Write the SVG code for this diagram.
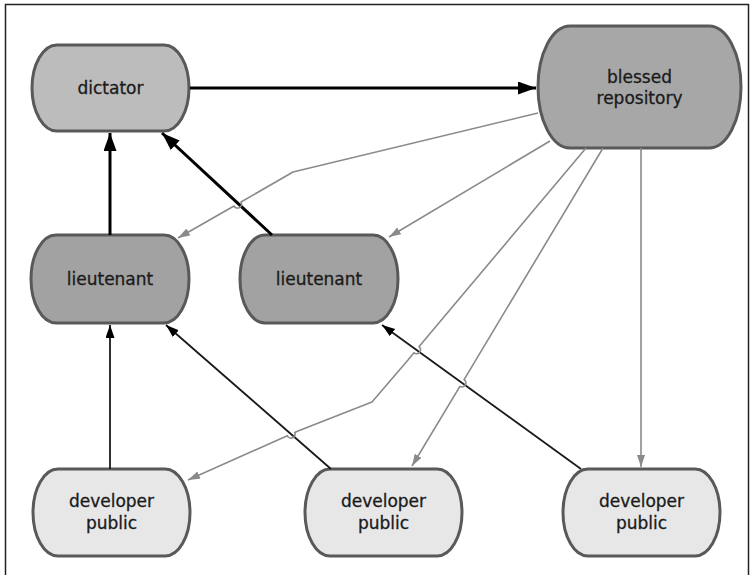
<svg xmlns="http://www.w3.org/2000/svg" width="754" height="575" viewBox="0 0 754 575">
  <style>
    .node { stroke: #595959; stroke-width: 3; }
    .dict { fill: #bcbcbc; }
    .repo { fill: #a7a7a7; }
    .lt { fill: #a2a2a2; }
    .dev { fill: #e7e7e7; }
    .lbl { font-family: "DejaVu Sans", "Liberation Sans", sans-serif; font-size: 17px; fill: #1a1a1a; stroke: #1a1a1a; stroke-width: 0.3; text-anchor: middle; }
    .thick { fill: none; stroke: #000; stroke-width: 3; marker-end: url(#aBig); }
    .thin { fill: none; stroke: #1a1a1a; stroke-width: 1.8; marker-end: url(#aThin); }
    .gray { fill: none; stroke: #8a8a8a; stroke-width: 1.6; stroke-linejoin: round; marker-end: url(#aGray); }
  </style>
  <defs>
    <marker id="aBig" markerUnits="userSpaceOnUse" markerWidth="19" markerHeight="14" refX="18" refY="6.5" orient="auto">
      <path d="M0,0 L18,6.5 L0,13 z" fill="#000"/>
    </marker>
    <marker id="aThin" markerUnits="userSpaceOnUse" markerWidth="14" markerHeight="10" refX="13" refY="4.5" orient="auto">
      <path d="M0,0 L13,4.5 L0,9 z" fill="#000"/>
    </marker>
    <marker id="aGray" markerUnits="userSpaceOnUse" markerWidth="13" markerHeight="9" refX="12" refY="4" orient="auto">
      <path d="M0,0 L12,4 L0,8 z" fill="#8a8a8a"/>
    </marker>
  </defs>
  <rect x="0" y="0" width="754" height="575" fill="#fff"/>
  <path d="M5.5,590 L5.5,4.5 L748.5,4.5 L748.5,590" fill="none" stroke="#222" stroke-width="1.5"/>

  <g id="dictator">
    <rect class="node dict" x="32" y="45" width="157" height="86" rx="25" ry="43"/>
    <text class="lbl" x="110.5" y="94">dictator</text>
  </g>
  <g id="blessed-repository">
    <rect class="node repo" x="538" y="26" width="203" height="122" rx="32" ry="61"/>
    <text class="lbl" x="639.5" y="83">blessed</text>
    <text class="lbl" x="639.5" y="104">repository</text>
  </g>
  <g id="lieutenant-1">
    <rect class="node lt" x="31" y="235" width="158" height="88" rx="25" ry="44"/>
    <text class="lbl" x="110" y="285">lieutenant</text>
  </g>
  <g id="lieutenant-2">
    <rect class="node lt" x="240" y="235" width="158" height="88" rx="25" ry="44"/>
    <text class="lbl" x="319" y="285">lieutenant</text>
  </g>
  <g id="developer-1">
    <rect class="node dev" x="33" y="469" width="157" height="87" rx="25" ry="43.5"/>
    <text class="lbl" x="111.5" y="507">developer</text>
    <text class="lbl" x="111.5" y="529">public</text>
  </g>
  <g id="developer-2">
    <rect class="node dev" x="305" y="469" width="157" height="87" rx="25" ry="43.5"/>
    <text class="lbl" x="383.5" y="507">developer</text>
    <text class="lbl" x="383.5" y="529">public</text>
  </g>
  <g id="developer-3">
    <rect class="node dev" x="563" y="469" width="157" height="87" rx="25" ry="43.5"/>
    <text class="lbl" x="641.5" y="507">developer</text>
    <text class="lbl" x="641.5" y="529">public</text>
  </g>

  <g id="connectors">
    <path class="thick" d="M190,88 L536,88"/>
    <path class="thick" d="M110,235 L110,133"/>
    <path class="thick" d="M272,235 L162,133"/>
    <path class="thin" d="M110,469 L110,325"/>
    <path class="thin" d="M331,469 L166,325"/>
    <path class="thin" d="M581,469 L382,325"/>
    <path class="gray" d="M538,113 L293,172 L241,202 A4,4 0 0 1 234,206 L178,238"/>
    <path class="gray" d="M550,141 L389,237"/>
    <path class="gray" d="M586,148 L419.1,346.6 A4,4 0 0 1 413.9,352.8 L408,360 L372,402 L298,431 L294.7,432.5 A4,4 0 0 1 287.3,435.7 L188,480"/>
    <path class="gray" d="M603,148 L464.1,379.6 A4,4 0 0 1 459.9,386.4 L412,466"/>
    <path class="gray" d="M641,148 L641,467"/>
  </g>
</svg>
